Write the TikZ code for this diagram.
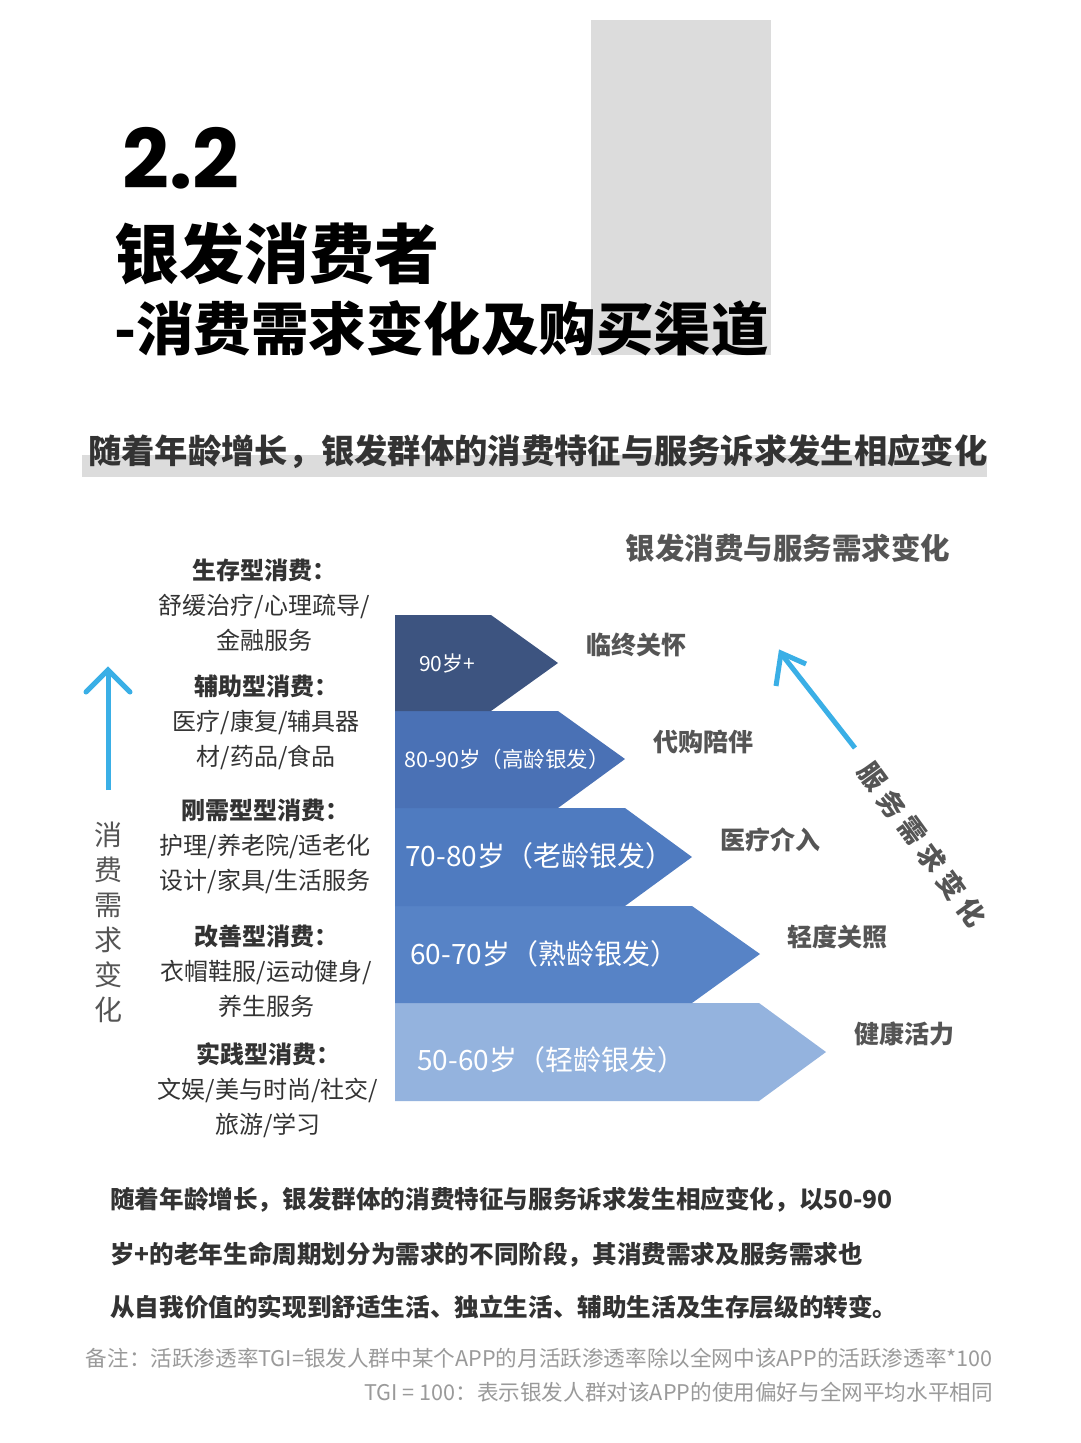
\documentclass[tikz,border=0pt]{standalone}
\usepackage{fontspec}
\setmainfont{Noto Sans CJK SC}
\newfontfamily\popf{Poppins}
\definecolor{graybox}{HTML}{DCDCDC}
\definecolor{txt}{HTML}{333333}
\definecolor{lbl}{HTML}{555555}
\definecolor{cA}{HTML}{3D5480}
\definecolor{cB}{HTML}{4A71B5}
\definecolor{cC}{HTML}{4F7BC0}
\definecolor{cD}{HTML}{5783C6}
\definecolor{cE}{HTML}{94B3DE}
\definecolor{sky}{HTML}{3AAFE6}
\definecolor{note}{HTML}{9A9A9A}
\tikzset{
 fs/.style={font=\fontsize{#1}{#1}\selectfont},
 t/.style={inner sep=0pt,text=txt},
 chevtxt/.style={inner sep=0pt,text=white,anchor=west},
 rlab/.style={inner sep=0pt,text=lbl,font=\fontsize{25}{25}\selectfont\bfseries},
 cat/.style={inner sep=0pt,text=txt,align=center,font=\fontsize{24}{35}\selectfont},
 dchar/.style={inner sep=0pt,text=lbl,rotate=-54,font=\fontsize{27}{27}\selectfont\bfseries},
}
\begin{document}
\begin{tikzpicture}[x=1pt,y=-1pt]
\useasboundingbox (0,0) rectangle (1080,1443);
\fill[white] (0,0) rectangle (1080,1443);
\fill[graybox] (591,20) rectangle (771,355);
\node[t,anchor=base west,text=black,font=\popf\bfseries\fontsize{82}{82}\selectfont] (num) at (122,188) {2.2};
\node[t,anchor=base west,text=black,font=\fontsize{65}{65}\selectfont\bfseries] (tt1) at (114,278) {银发消费者};
\node[t,anchor=base west,text=black,font=\fontsize{57.5}{58}\selectfont\bfseries] (tt2) at (114,350) {-消费需求变化及购买渠道};
\fill[graybox] (82,455) rectangle (987,477);
\node[t,anchor=base west,font=\fontsize{33.3}{34}\selectfont\bfseries] (sub) at (88,463) {随着年龄增长，银发群体的消费特征与服务诉求发生相应变化};
\node[t,text=lbl,font=\fontsize{29.5}{30}\selectfont\bfseries] (ptitle) at (788,548) {银发消费与服务需求变化};
% chevrons
\fill[cE] (395,1003) -- (759,1003) -- (826,1052) -- (759,1101) -- (395,1101) -- cycle;
\fill[cD] (395,906) -- (692,906) -- (760,954) -- (692,1003) -- (395,1003) -- cycle;
\fill[cC] (395,808) -- (625,808) -- (692,857) -- (625,906) -- (395,906) -- cycle;
\fill[cB] (395,711) -- (558,711) -- (625,759) -- (558,808) -- (395,808) -- cycle;
\fill[cA] (395,615) -- (491,615) -- (558,663) -- (491,711) -- (395,711) -- cycle;
\node[chevtxt,fs=21] (a1) at (419,663) {90岁+};
\node[chevtxt,fs=21.5] (a2) at (404,759) {80-90岁（高龄银发）};
\node[chevtxt,fs=28] (a3) at (405,856) {70-80岁（老龄银发）};
\node[chevtxt,fs=28] (a4) at (410,954) {60-70岁（熟龄银发）};
\node[chevtxt,fs=28] (a5) at (417,1060) {50-60岁（轻龄银发）};
\node[rlab] (r1) at (636,645) {临终关怀};
\node[rlab] (r2) at (703,742) {代购陪伴};
\node[rlab] (r3) at (770,840) {医疗介入};
\node[rlab] (r4) at (837,937) {轻度关照};
\node[rlab] (r5) at (904,1034) {健康活力};
% left categories
\node[cat] (c1) at (264,605) {\textbf{生存型消费：}\\舒缓治疗/心理疏导/\\金融服务};
\node[cat] (c2) at (266,722) {\textbf{辅助型消费：}\\医疗/康复/辅具器\\材/药品/食品};
\node[cat] (c3) at (265,846) {\textbf{刚需型型消费：}\\护理/养老院/适老化\\设计/家具/生活服务};
\node[cat] (c4) at (266,971) {\textbf{改善型消费：}\\衣帽鞋服/运动健身/\\养生服务};
\node[cat] (c5) at (268,1090) {\textbf{实践型消费：}\\文娱/美与时尚/社交/\\旅游/学习};
% left arrow
\coordinate (la1) at (108,790);
\coordinate (la2) at (108,670);
\draw[sky,line width=5pt] (la1) -- (108,674);
\draw[sky,line width=5pt,line cap=round,line join=miter] (86,692) -- (la2) -- (130,692);
\node[t,text=lbl,align=center,font=\fontsize{28}{35}\selectfont] (vt) at (108,922) {消\\费\\需\\求\\变\\化};
% diagonal arrow
\coordinate (da1) at (855,748);
\coordinate (da2) at (781,653);
\draw[sky,line width=5pt] (da1) -- (783,656);
\draw[sky,line width=5pt,line join=miter] (776,686) -- (da2) -- (806,664);
\node[dchar] (d1) at (872,777) {服};
\node[dchar] (d2) at (892,804) {务};
\node[dchar] (d3) at (912,831) {需};
\node[dchar] (d4) at (932,858) {求};
\node[dchar] (d5) at (952,885) {变};
\node[dchar] (d6) at (972,912) {化};
% paragraph
\node[t,anchor=base west,font=\fontsize{24.6}{25}\selectfont\bfseries] (p1) at (110,1208) {随着年龄增长，银发群体的消费特征与服务诉求发生相应变化，以50-90};
\node[t,anchor=base west,font=\fontsize{24.6}{25}\selectfont\bfseries] (p2) at (110,1263) {岁+的老年生命周期划分为需求的不同阶段，其消费需求及服务需求也};
\node[t,anchor=base west,font=\fontsize{24.6}{25}\selectfont\bfseries] (p3) at (110,1316) {从自我价值的实现到舒适生活、独立生活、辅助生活及生存层级的转变。};
\node[t,text=note,anchor=base east,font=\fontsize{21.6}{22}\selectfont] (n1) at (993,1366) {备注：活跃渗透率TGI=银发人群中某个APP的月活跃渗透率除以全网中该APP的活跃渗透率*100};
\node[t,text=note,anchor=base east,font=\fontsize{21.6}{22}\selectfont] (n2) at (993,1400) {TGI = 100：表示银发人群对该APP的使用偏好与全网平均水平相同};
\end{tikzpicture}
\end{document}
